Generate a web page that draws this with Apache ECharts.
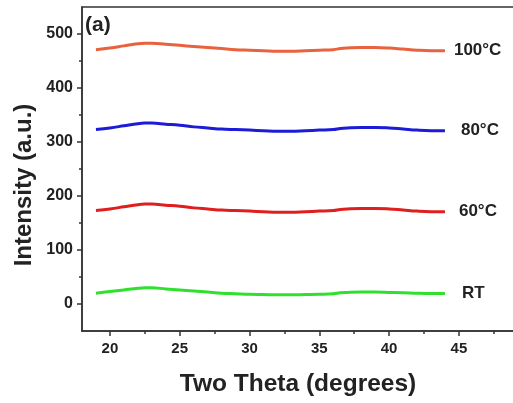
<!DOCTYPE html>
<html>
<head>
<meta charset="utf-8">
<script src="https://cdn.jsdelivr.net/npm/echarts@6/dist/echarts.min.js"></script>
<style>
  html, body { margin: 0; padding: 0; background: #ffffff; }
  #chart { width: 513px; height: 403px; }
</style>
</head>
<body>
<div id="chart"></div>
<script>
// XRD patterns: intensity vs 2θ for films annealed at different temperatures
const twoTheta = [19, 20, 21, 22, 22.5, 23, 24, 25, 26, 27, 28, 29, 30, 31, 32, 33, 34, 35, 36, 36.5, 37, 38, 39, 40, 41, 42, 43, 44];

const intensity100C = [471, 474, 478, 482, 483, 483, 481, 479, 477, 475, 473, 471, 470, 469, 468, 468, 469, 470, 471, 473, 474, 475, 475, 474, 472, 470, 469, 469];
const intensity80C  = [323, 326, 330, 334, 335, 335, 333, 331, 328, 326, 324, 323, 322, 321, 320, 320, 321, 322, 323, 325, 326, 327, 327, 326, 324, 322, 321, 321];
const intensity60C  = [173, 176, 180, 184, 185, 185, 183, 181, 178, 176, 174, 173, 172, 171, 170, 170, 171, 172, 173, 175, 176, 177, 177, 176, 174, 172, 171, 171];
const intensityRT   = [20, 23, 26, 29, 30, 30, 28, 26, 24, 22, 20, 19, 18, 17.5, 17, 17, 17.5, 18, 19, 21, 21.5, 22, 22, 21.5, 21, 20, 19.5, 19.5];

const seriesNames = ['100°C', '80°C', '60°C', 'RT'];
const seriesColors = ['#e8623e', '#1c1cd6', '#e01e1e', '#2fe02f'];
const labelGaps = [9, 16, 14, 17];

const xMajorTicks = [20, 25, 30, 35, 40, 45];
const xMinorTicks = [22.5, 27.5, 32.5, 37.5, 42.5, 47.5];
const yMajorTicks = [0, 100, 200, 300, 400, 500];
const yMinorTicks = [50, 150, 250, 350, 450];

const FONT = '"Liberation Sans", Arial, sans-serif';
const INK = '#222222';

const pairs = vals => vals.map((v, i) => [twoTheta[i], v]);
const allValues = [intensity100C, intensity80C, intensity60C, intensityRT];

// the frame runs past the right edge of the canvas
const xRange = { min: 18, max: 49.52 };
const yRange = { min: -50, max: 550 };

const chart = echarts.init(document.getElementById('chart'), null, { renderer: 'canvas' });

chart.setOption({
  backgroundColor: '#ffffff',
  animation: false,
  grid: {
    left: 82, top: 7, width: 440, bottom: 72,
    outerBoundsMode: 'none',
    containLabel: false,
    show: true, borderColor: '#333333', borderWidth: 1.5, backgroundColor: 'transparent'
  },
  xAxis: [
    {
      type: 'value', ...xRange, position: 'bottom',
      axisLine: { show: true, onZero: false, lineStyle: { color: '#333333', width: 1.5 } },
      axisTick: { show: true, inside: false, length: 5, customValues: xMajorTicks, lineStyle: { color: '#333333', width: 1.5 } },
      axisLabel: { show: true, customValues: xMajorTicks, margin: 10, color: INK, fontSize: 15, fontWeight: 'bold', fontFamily: FONT },
      splitLine: { show: false }
    },
    {
      type: 'value', ...xRange, position: 'bottom', offset: 0,
      axisLine: { show: false, onZero: false },
      axisTick: { show: true, inside: false, length: 3, customValues: xMinorTicks, lineStyle: { color: '#333333', width: 1.5 } },
      axisLabel: { show: false },
      splitLine: { show: false }
    }
  ],
  yAxis: [
    {
      type: 'value', ...yRange, position: 'left',
      axisLine: { show: true, onZero: false, lineStyle: { color: '#333333', width: 1.5 } },
      axisTick: { show: true, inside: false, length: 5, customValues: yMajorTicks, lineStyle: { color: '#333333', width: 1.5 } },
      axisLabel: { show: true, customValues: yMajorTicks, margin: 9, color: INK, fontSize: 16, fontWeight: 'bold', fontFamily: FONT },
      splitLine: { show: false }
    },
    {
      type: 'value', ...yRange, position: 'left', offset: 0,
      axisLine: { show: false, onZero: false },
      axisTick: { show: true, inside: false, length: 3, customValues: yMinorTicks, lineStyle: { color: '#333333', width: 1.5 } },
      axisLabel: { show: false },
      splitLine: { show: false }
    }
  ],
  series: allValues.map((vals, i) => ({
    name: seriesNames[i],
    type: 'line',
    xAxisIndex: 0,
    yAxisIndex: 0,
    data: pairs(vals),
    smooth: 0.4,
    showSymbol: false,
    lineStyle: { color: seriesColors[i], width: 3 },
    endLabel: {
      show: true,
      formatter: seriesNames[i],
      distance: labelGaps[i],
      color: INK,
      fontSize: 17,
      fontWeight: 'bold',
      fontFamily: FONT
    }
  })),
  graphic: [
    {
      type: 'text', left: 85, top: 15,
      style: { text: '(a)', fill: INK, font: 'bold 21px ' + FONT }
    },
    {
      type: 'text', x: 24, y: 185, rotation: Math.PI / 2,
      style: { text: 'Intensity (a.u.)', fill: INK, font: 'bold 24px ' + FONT, align: 'center', verticalAlign: 'middle' }
    },
    {
      type: 'text', x: 298, y: 384,
      style: { text: 'Two Theta (degrees)', fill: INK, font: 'bold 24.5px ' + FONT, align: 'center', verticalAlign: 'middle' }
    }
  ]
});
</script>
</body>
</html>
